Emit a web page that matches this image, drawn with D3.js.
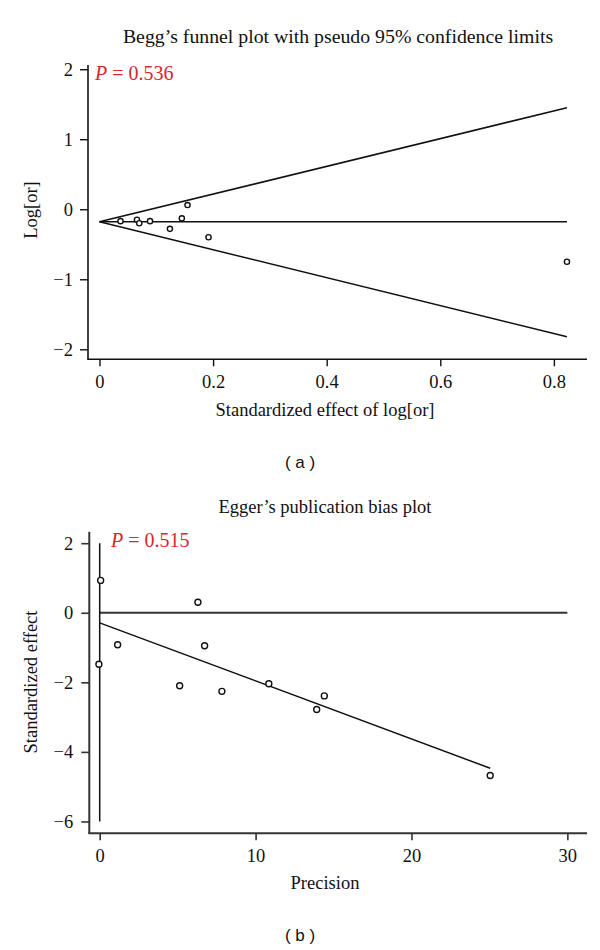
<!DOCTYPE html>
<html>
<head>
<meta charset="utf-8">
<script src="https://cdn.jsdelivr.net/npm/d3@7"></script>
<style>
  html, body { margin: 0; padding: 0; background: #fff; }
  svg { display: block; }
</style>
</head>
<body>
<svg id="chart" width="600" height="950"></svg>
<script>
// ---------- DATA ----------
// (a) Begg's funnel plot: x = s.e. of log[or] (standardized effect), y = log[or]
const beggSE    = [0.037, 0.066, 0.070, 0.089, 0.124, 0.145, 0.155, 0.192, 0.823];
const beggLogOR = [-0.17, -0.15, -0.20, -0.17, -0.28, -0.13, 0.06, -0.40, -0.75];
const beggCenter = -0.18;          // pooled log[or]
const beggLimitX = [0, 0.823];     // range of pseudo 95% limits
const beggUpper  = [-0.18, 1.45];
const beggLower  = [-0.18, -1.82];
const beggXTicks = [0, 0.2, 0.4, 0.6, 0.8];
const beggYTicks = [-2, -1, 0, 1, 2];
const beggP = "0.536";

// (b) Egger's publication bias plot: x = precision, y = standardized effect
const eggerPrecision = [0.06, 1.15, -0.05, 6.30, 6.73, 5.13, 7.84, 10.85, 14.41, 13.92, 25.05];
const eggerStdEff    = [0.93, -0.92, -1.48, 0.30, -0.95, -2.10, -2.26, -2.04, -2.39, -2.78, -4.68];
const eggerLineX = [0, 25.05];
const eggerLineY = [-0.29, -4.47];
const eggerCI    = [2, -6];        // vertical intercept CI line at precision 0
const eggerZeroX = [0, 30];
const eggerXTicks = [0, 10, 20, 30];
const eggerYTicks = [-6, -4, -2, 0, 2];
const eggerP = "0.515";

// ---------- DRAW ----------
const svg = d3.select("#chart");
const serif = "'Liberation Serif', 'Times New Roman', serif";
const sans = "'Liberation Sans', Arial, sans-serif";
const red = "#d8262c";
const fmtTick = d => (d < 0 ? "\u2212" + Math.abs(d) : String(d));

function styleAxis(g, color, width) {
  g.select(".domain").remove();
  g.selectAll(".tick line").attr("stroke", color).attr("stroke-width", width);
  g.selectAll(".tick text")
    .attr("font-family", serif).attr("font-size", 18.5).attr("fill", "#111");
}

// ===== Panel (a) =====
{
  const x = d3.scaleLinear().domain([-0.0202, 0.8583]).range([88, 587]);
  const y = d3.scaleLinear().domain([-2.143, 2.06]).range([359.3, 65]);
  const g = svg.append("g");

  g.append("line").attr("x1", x.range()[0]).attr("x2", x.range()[0])
    .attr("y1", y.range()[1]).attr("y2", y.range()[0])
    .attr("stroke", "#111").attr("stroke-width", 1.6);
  g.append("line").attr("x1", x.range()[0] - 0.8).attr("x2", x.range()[1])
    .attr("y1", y.range()[0]).attr("y2", y.range()[0])
    .attr("stroke", "#111").attr("stroke-width", 1.6);

  const ya = g.append("g").attr("transform", `translate(${x.range()[0]},0)`)
    .call(d3.axisLeft(y).tickValues(beggYTicks).tickSize(8).tickPadding(7).tickFormat(fmtTick));
  styleAxis(ya, "#111", 1.4);
  const xa = g.append("g").attr("transform", `translate(0,${y.range()[0]})`)
    .call(d3.axisBottom(x).tickValues(beggXTicks).tickSize(7).tickPadding(9).tickFormat(d => d === 0 ? "0" : d3.format(".1f")(d)));
  styleAxis(xa, "#111", 1.4);

  const line = d3.line().x(d => x(d[0])).y(d => y(d[1]));
  g.append("path").attr("d", line(beggLimitX.map((v, i) => [v, beggUpper[i]])))
    .attr("fill", "none").attr("stroke", "#111").attr("stroke-width", 1.5);
  g.append("path").attr("d", line(beggLimitX.map((v, i) => [v, beggLower[i]])))
    .attr("fill", "none").attr("stroke", "#111").attr("stroke-width", 1.5);
  g.append("path").attr("d", line(beggLimitX.map(v => [v, beggCenter])))
    .attr("fill", "none").attr("stroke", "#111").attr("stroke-width", 1.5);

  g.selectAll("circle.pt").data(beggSE.map((v, i) => [v, beggLogOR[i]])).join("circle")
    .attr("class", "pt").attr("cx", d => x(d[0])).attr("cy", d => y(d[1])).attr("r", 2.6)
    .attr("fill", "#fff").attr("stroke", "#111").attr("stroke-width", 1.4);

  g.append("text").attr("x", 338).attr("y", 43).attr("text-anchor", "middle")
    .attr("font-family", serif).attr("font-size", 19.8).attr("fill", "#111")
    .text("Begg\u2019s funnel plot with pseudo 95% confidence limits");
  const p = g.append("text").attr("x", 95).attr("y", 80)
    .attr("font-family", serif).attr("font-size", 20).attr("fill", red);
  p.append("tspan").attr("font-style", "italic").text("P");
  p.append("tspan").text(" = " + beggP);
  g.append("text").attr("transform", "translate(37,210) rotate(-90)").attr("text-anchor", "middle")
    .attr("font-family", serif).attr("font-size", 18.5).attr("fill", "#111").text("Log[or]");
  g.append("text").attr("x", 325).attr("y", 416).attr("text-anchor", "middle")
    .attr("font-family", serif).attr("font-size", 18.5).attr("fill", "#111")
    .text("Standardized effect of log[or]");
  g.append("text").attr("x", 300).attr("y", 468).attr("text-anchor", "middle")
    .attr("font-family", sans).attr("font-size", 17).attr("fill", "#111").attr("xml:space", "preserve")
    .text("( a )");
}

// ===== Panel (b) =====
{
  const x = d3.scaleLinear().domain([-0.667, 31.26]).range([89.3, 587]);
  const y = d3.scaleLinear().domain([-6.34, 2.33]).range([833.3, 531.7]);
  const g = svg.append("g");
  const axc = "#333";

  g.append("line").attr("x1", x.range()[0]).attr("x2", x.range()[0])
    .attr("y1", y.range()[1]).attr("y2", y.range()[0])
    .attr("stroke", axc).attr("stroke-width", 2);
  g.append("line").attr("x1", x.range()[0] - 1).attr("x2", x.range()[1])
    .attr("y1", y.range()[0]).attr("y2", y.range()[0])
    .attr("stroke", axc).attr("stroke-width", 2);

  const ya = g.append("g").attr("transform", `translate(${x.range()[0]},0)`)
    .call(d3.axisLeft(y).tickValues(eggerYTicks).tickSize(8).tickPadding(8).tickFormat(fmtTick));
  styleAxis(ya, axc, 1.6);
  const xa = g.append("g").attr("transform", `translate(0,${y.range()[0]})`)
    .call(d3.axisBottom(x).tickValues(eggerXTicks).tickSize(7).tickPadding(9).tickFormat(fmtTick));
  styleAxis(xa, axc, 1.6);

  const line = d3.line().x(d => x(d[0])).y(d => y(d[1]));
  g.append("path").attr("d", line(eggerZeroX.map(v => [v, 0])))
    .attr("fill", "none").attr("stroke", axc).attr("stroke-width", 2);
  g.append("path").attr("d", line(eggerCI.map(v => [0, v])))
    .attr("fill", "none").attr("stroke", "#111").attr("stroke-width", 1.5);
  g.append("path").attr("d", line(eggerLineX.map((v, i) => [v, eggerLineY[i]])))
    .attr("fill", "none").attr("stroke", "#111").attr("stroke-width", 1.5);

  g.selectAll("circle.pt").data(eggerPrecision.map((v, i) => [v, eggerStdEff[i]])).join("circle")
    .attr("class", "pt").attr("cx", d => x(d[0])).attr("cy", d => y(d[1])).attr("r", 3)
    .attr("fill", "#fff").attr("stroke", "#111").attr("stroke-width", 1.4);

  g.append("text").attr("x", 325).attr("y", 513).attr("text-anchor", "middle")
    .attr("font-family", serif).attr("font-size", 18.5).attr("fill", "#111")
    .text("Egger\u2019s publication bias plot");
  const p = g.append("text").attr("x", 111).attr("y", 547)
    .attr("font-family", serif).attr("font-size", 20).attr("fill", red);
  p.append("tspan").attr("font-style", "italic").text("P");
  p.append("tspan").text(" = " + eggerP);
  g.append("text").attr("transform", "translate(37,682) rotate(-90)").attr("text-anchor", "middle")
    .attr("font-family", serif).attr("font-size", 18.5).attr("fill", "#111").text("Standardized effect");
  g.append("text").attr("x", 325).attr("y", 889).attr("text-anchor", "middle")
    .attr("font-family", serif).attr("font-size", 18.5).attr("fill", "#111").text("Precision");
  g.append("text").attr("x", 300).attr("y", 941).attr("text-anchor", "middle")
    .attr("font-family", sans).attr("font-size", 17).attr("fill", "#111").attr("xml:space", "preserve")
    .text("( b )");
}
</script>
</body>
</html>
